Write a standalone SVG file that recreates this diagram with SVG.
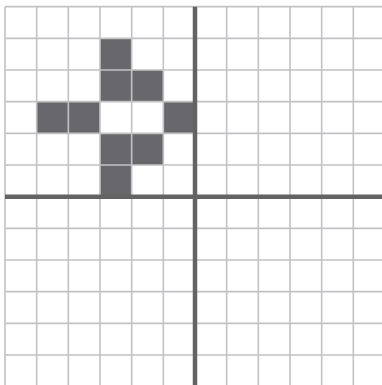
<svg xmlns="http://www.w3.org/2000/svg" width="382" height="385" viewBox="0 0 382 385">
<style>
.cell{fill:#68686c}
.grid{stroke:#c2c2c6;stroke-width:1.6;fill:none}
.axis{stroke:#636363;stroke-width:4.5;fill:none}
</style>
<rect width="382" height="385" fill="#ffffff"/>
<g id="cells">
<rect class="cell" x="100" y="38.33" width="31.67" height="31.67"/>
<rect class="cell" x="100" y="70" width="31.67" height="31.67"/>
<rect class="cell" x="131.67" y="70" width="31.67" height="31.67"/>
<rect class="cell" x="36.67" y="101.67" width="31.67" height="31.67"/>
<rect class="cell" x="68.33" y="101.67" width="31.67" height="31.67"/>
<rect class="cell" x="163.33" y="101.67" width="31.67" height="31.67"/>
<rect class="cell" x="100" y="133.33" width="31.67" height="31.67"/>
<rect class="cell" x="131.67" y="133.33" width="31.67" height="31.67"/>
<rect class="cell" x="100" y="165" width="31.67" height="31.67"/>
</g>
<g id="grid">
<path class="grid" d="M5,6.67V385 M36.67,6.67V385 M68.33,6.67V385 M100,6.67V385 M131.67,6.67V385 M163.33,6.67V385 M195,6.67V385 M226.67,6.67V385 M258.33,6.67V385 M290,6.67V385 M321.67,6.67V385 M353.33,6.67V385 M5,6.67H382 M5,38.33H382 M5,70H382 M5,101.67H382 M5,133.33H382 M5,165H382 M5,196.67H382 M5,228.33H382 M5,260H382 M5,291.67H382 M5,323.33H382 M5,355H382"/>
</g>
<g id="axes">
<path class="axis" d="M195,6.67V385 M5,196.67H382"/>
</g>
</svg>
